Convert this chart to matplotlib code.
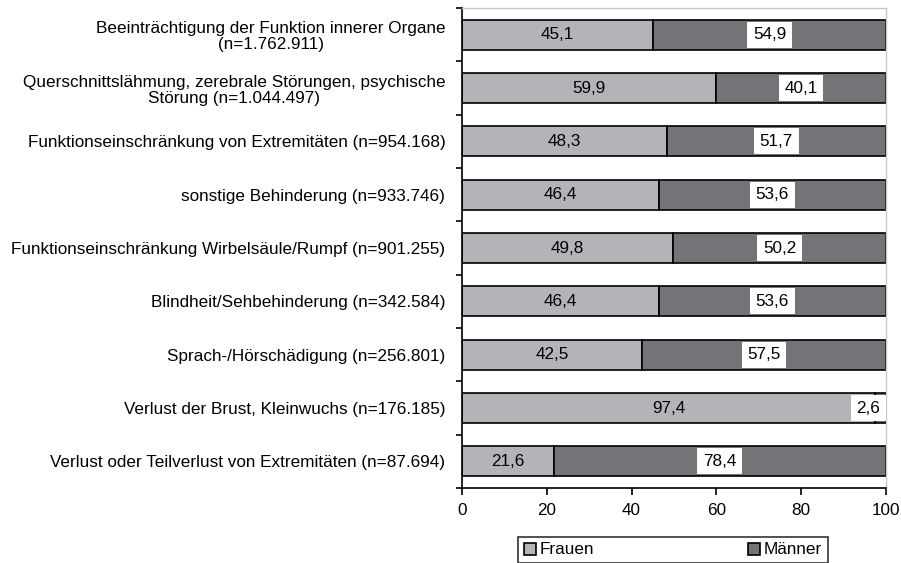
import numpy as np
import matplotlib
matplotlib.use("Agg")
import matplotlib.pyplot as plt

plt.rcParams['font.family'] = ['Liberation Sans', 'DejaVu Sans']

categories = [
    "Beeinträchtigung der Funktion innerer Organe\n(n=1.762.911)",
    "Querschnittslähmung, zerebrale Störungen, psychische\nStörung (n=1.044.497)",
    "Funktionseinschränkung von Extremitäten (n=954.168)",
    "sonstige Behinderung (n=933.746)",
    "Funktionseinschränkung Wirbelsäule/Rumpf (n=901.255)",
    "Blindheit/Sehbehinderung (n=342.584)",
    "Sprach-/Hörschädigung (n=256.801)",
    "Verlust der Brust, Kleinwuchs (n=176.185)",
    "Verlust oder Teilverlust von Extremitäten (n=87.694)",
]
frauen = [45.1, 59.9, 48.3, 46.4, 49.8, 46.4, 42.5, 97.4, 21.6]
maenner = [54.9, 40.1, 51.7, 53.6, 50.2, 53.6, 57.5, 2.6, 78.4]

c_f = '#b4b4b8'
c_m = '#737378'
fs = 12.3

fig = plt.figure(figsize=(9.01, 5.63), dpi=100)
ax = fig.add_axes([462 / 901, 1 - 488 / 563, 424 / 901, 480 / 563])

y = np.arange(len(categories))
h = 0.56
bf = ax.barh(y, frauen, height=h, color=c_f, edgecolor='black', linewidth=1.2, label='Frauen')
bm = ax.barh(y, maenner, left=frauen, height=h, color=c_m, edgecolor='black', linewidth=1.2, label='Männer')

def fmt(v):
    return f"{v:.1f}".replace('.', ',')

for i in range(len(categories)):
    ax.text(frauen[i] / 2, y[i], fmt(frauen[i]), ha='center', va='center', fontsize=fs)
    xm = frauen[i] + maenner[i] / 2
    ax.text(xm, y[i], fmt(maenner[i]), ha='right' if maenner[i] < 5 else 'center', va='center',
            fontsize=fs, bbox=dict(facecolor='white', edgecolor='none', pad=4))

ax.set_xlim(0, 100)
ax.set_ylim(len(categories) - 0.5, -0.5)
ax.set_xticks([0, 20, 40, 60, 80, 100])
ax.tick_params(axis='x', direction='out', length=5, width=1.2, labelsize=fs, pad=6)
ax.set_yticks(y)
ax.set_yticklabels(categories, fontsize=fs, linespacing=1.1, multialignment='center')
ax.tick_params(axis='y', length=0, pad=12)
ax.set_yticks(np.arange(-0.5, len(categories), 1), minor=True)
ax.tick_params(axis='y', which='minor', length=4, width=1.2, direction='out')

for s in ['top', 'right']:
    ax.spines[s].set_color('#c8c8c8')
    ax.spines[s].set_linewidth(1)
for s in ['left', 'bottom']:
    ax.spines[s].set_color('black')
    ax.spines[s].set_linewidth(1.2)

leg = fig.legend(handles=[bf, bm], loc='center', bbox_to_anchor=(673 / 901, 1 - 550 / 563),
                 ncol=2, frameon=True, fancybox=False, edgecolor='black', fontsize=fs,
                 handlelength=0.7, handleheight=0.7, handletextpad=0.2, columnspacing=9,
                 borderpad=0.35, borderaxespad=0)
leg.get_frame().set_linewidth(1.2)

fig.savefig('out.png', dpi=100)
